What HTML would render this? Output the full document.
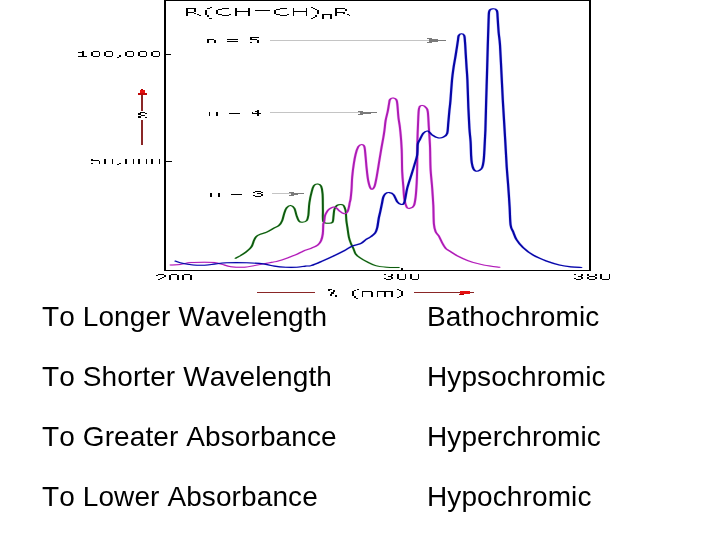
<!DOCTYPE html>
<html><head><meta charset="utf-8">
<style>
html,body{margin:0;padding:0;background:#fff;}
body{width:720px;height:540px;position:relative;overflow:hidden;font-family:"Liberation Sans",sans-serif;}
.t{position:absolute;font-kerning:none;font-size:28px;line-height:28px;color:#000;white-space:nowrap;letter-spacing:0.1px;will-change:transform;}
svg{position:absolute;left:0;top:0;}
</style></head><body>
<svg width="720" height="300" viewBox="0 0 720 300">
<g shape-rendering="crispEdges">
<rect x="164" y="0" width="2" height="271" fill="#000"/>
<rect x="164" y="0" width="427" height="1" fill="#000"/>
<rect x="589" y="0" width="2" height="271" fill="#000"/>
<rect x="164" y="270" width="427" height="1" fill="#000"/>
<rect x="166" y="54" width="5" height="1" fill="#000"/>
<rect x="166" y="161" width="6" height="1" fill="#000"/>
<rect x="401" y="268" width="2" height="2" fill="#000"/>
<rect x="186" y="8" width="2" height="8" fill="#000"/>
<rect x="188" y="8" width="8" height="1" fill="#000"/>
<rect x="194" y="9" width="2" height="3" fill="#000"/>
<rect x="188" y="12" width="6" height="1" fill="#000"/>
<rect x="194" y="13" width="2" height="1" fill="#000"/>
<rect x="197" y="14" width="2" height="1" fill="#000"/>
<rect x="199" y="15" width="2" height="1" fill="#000"/>
<rect x="210" y="7" width="2" height="1" fill="#000"/>
<rect x="207" y="8" width="3" height="1" fill="#000"/>
<rect x="205" y="10" width="2" height="5" fill="#000"/>
<rect x="207" y="15" width="2" height="2" fill="#000"/>
<rect x="209" y="18" width="3" height="1" fill="#000"/>
<rect x="222" y="8" width="7" height="1" fill="#000"/>
<rect x="218" y="9" width="4" height="1" fill="#000"/>
<rect x="216" y="10" width="2" height="4" fill="#000"/>
<rect x="218" y="14" width="4" height="1" fill="#000"/>
<rect x="222" y="15" width="7" height="1" fill="#000"/>
<rect x="229" y="14" width="2" height="1" fill="#000"/>
<rect x="235" y="8" width="2" height="8" fill="#000"/>
<rect x="237" y="11" width="11" height="1" fill="#000"/>
<rect x="248" y="8" width="2" height="8" fill="#000"/>
<rect x="255" y="10" width="15" height="1" fill="#000"/>
<rect x="280" y="8" width="7" height="1" fill="#000"/>
<rect x="276" y="9" width="4" height="1" fill="#000"/>
<rect x="274" y="10" width="2" height="4" fill="#000"/>
<rect x="276" y="14" width="4" height="1" fill="#000"/>
<rect x="280" y="15" width="7" height="1" fill="#000"/>
<rect x="287" y="14" width="2" height="1" fill="#000"/>
<rect x="293" y="8" width="1" height="8" fill="#000"/>
<rect x="294" y="11" width="12" height="1" fill="#000"/>
<rect x="306" y="8" width="1" height="8" fill="#000"/>
<rect x="311" y="7" width="2" height="1" fill="#000"/>
<rect x="313" y="8" width="2" height="1" fill="#000"/>
<rect x="315" y="9" width="2" height="1" fill="#000"/>
<rect x="317" y="10" width="2" height="4" fill="#000"/>
<rect x="315" y="15" width="2" height="2" fill="#000"/>
<rect x="313" y="17" width="2" height="1" fill="#000"/>
<rect x="311" y="18" width="2" height="1" fill="#000"/>
<rect x="322" y="14" width="10" height="1" fill="#000"/>
<rect x="322" y="15" width="2" height="4" fill="#000"/>
<rect x="330" y="15" width="2" height="4" fill="#000"/>
<rect x="335" y="8" width="2" height="8" fill="#000"/>
<rect x="337" y="8" width="8" height="1" fill="#000"/>
<rect x="345" y="9" width="2" height="2" fill="#000"/>
<rect x="337" y="12" width="8" height="1" fill="#000"/>
<rect x="343" y="13" width="2" height="1" fill="#000"/>
<rect x="347" y="14" width="2" height="1" fill="#000"/>
<rect x="349" y="15" width="1" height="1" fill="#000"/>
<rect x="207" y="39" width="7" height="1" fill="#000"/>
<rect x="207" y="40" width="2" height="3" fill="#000"/>
<rect x="214" y="40" width="2" height="3" fill="#000"/>
<rect x="227" y="39" width="11" height="1" fill="#000"/>
<rect x="227" y="41" width="11" height="1" fill="#000"/>
<rect x="250" y="37" width="9" height="1" fill="#000"/>
<rect x="250" y="38" width="2" height="1" fill="#000"/>
<rect x="250" y="39" width="7" height="1" fill="#000"/>
<rect x="257" y="40" width="2" height="3" fill="#000"/>
<rect x="250" y="42" width="2" height="1" fill="#000"/>
<rect x="209" y="112" width="1" height="4" fill="#000"/>
<rect x="216" y="112" width="2" height="4" fill="#000"/>
<rect x="229" y="113" width="11" height="1" fill="#000"/>
<rect x="257" y="110" width="2" height="6" fill="#000"/>
<rect x="255" y="111" width="2" height="1" fill="#000"/>
<rect x="252" y="112" width="1" height="2" fill="#000"/>
<rect x="252" y="113" width="9" height="1" fill="#000"/>
<rect x="210" y="193" width="2" height="4" fill="#000"/>
<rect x="218" y="193" width="2" height="4" fill="#000"/>
<rect x="231" y="194" width="11" height="1" fill="#000"/>
<rect x="255" y="191" width="6" height="1" fill="#000"/>
<rect x="253" y="192" width="2" height="1" fill="#000"/>
<rect x="261" y="192" width="2" height="1" fill="#000"/>
<rect x="257" y="193" width="4" height="1" fill="#000"/>
<rect x="261" y="194" width="2" height="2" fill="#000"/>
<rect x="253" y="195" width="2" height="1" fill="#000"/>
<rect x="255" y="196" width="6" height="1" fill="#000"/>
<rect x="78" y="52" width="4" height="1" fill="#000"/>
<rect x="82" y="51" width="2" height="5" fill="#000"/>
<rect x="78" y="56" width="9" height="1" fill="#000"/>
<rect x="91" y="52" width="2" height="4" fill="#000"/>
<rect x="93" y="51" width="6" height="1" fill="#000"/>
<rect x="99" y="52" width="1" height="4" fill="#000"/>
<rect x="93" y="56" width="6" height="1" fill="#000"/>
<rect x="104" y="52" width="2" height="4" fill="#000"/>
<rect x="106" y="51" width="6" height="1" fill="#000"/>
<rect x="112" y="52" width="1" height="4" fill="#000"/>
<rect x="106" y="56" width="6" height="1" fill="#000"/>
<rect x="125" y="52" width="2" height="4" fill="#000"/>
<rect x="127" y="51" width="6" height="1" fill="#000"/>
<rect x="133" y="52" width="1" height="4" fill="#000"/>
<rect x="127" y="56" width="6" height="1" fill="#000"/>
<rect x="138" y="52" width="2" height="4" fill="#000"/>
<rect x="140" y="51" width="6" height="1" fill="#000"/>
<rect x="146" y="52" width="1" height="4" fill="#000"/>
<rect x="140" y="56" width="6" height="1" fill="#000"/>
<rect x="151" y="52" width="2" height="4" fill="#000"/>
<rect x="153" y="51" width="6" height="1" fill="#000"/>
<rect x="159" y="52" width="1" height="4" fill="#000"/>
<rect x="153" y="56" width="6" height="1" fill="#000"/>
<rect x="119" y="55" width="2" height="2" fill="#000"/>
<rect x="117" y="57" width="2" height="1" fill="#000"/>
<rect x="91" y="159" width="2" height="2" fill="#000"/>
<rect x="93" y="160" width="6" height="1" fill="#000"/>
<rect x="99" y="161" width="1" height="3" fill="#000"/>
<rect x="91" y="163" width="2" height="1" fill="#000"/>
<rect x="104" y="159" width="2" height="5" fill="#000"/>
<rect x="112" y="159" width="1" height="5" fill="#000"/>
<rect x="125" y="159" width="2" height="5" fill="#000"/>
<rect x="133" y="159" width="1" height="5" fill="#000"/>
<rect x="138" y="159" width="2" height="5" fill="#000"/>
<rect x="146" y="159" width="1" height="5" fill="#000"/>
<rect x="151" y="159" width="2" height="5" fill="#000"/>
<rect x="159" y="159" width="1" height="5" fill="#000"/>
<rect x="119" y="163" width="2" height="1" fill="#000"/>
<rect x="117" y="164" width="2" height="1" fill="#000"/>
<rect x="156" y="275" width="2" height="1" fill="#000"/>
<rect x="158" y="274" width="6" height="1" fill="#000"/>
<rect x="164" y="275" width="2" height="2" fill="#000"/>
<rect x="162" y="277" width="2" height="1" fill="#000"/>
<rect x="160" y="278" width="2" height="1" fill="#000"/>
<rect x="158" y="279" width="2" height="1" fill="#000"/>
<rect x="169" y="275" width="2" height="5" fill="#000"/>
<rect x="171" y="274" width="6" height="1" fill="#000"/>
<rect x="177" y="275" width="2" height="5" fill="#000"/>
<rect x="182" y="275" width="2" height="5" fill="#000"/>
<rect x="184" y="274" width="6" height="1" fill="#000"/>
<rect x="190" y="275" width="2" height="5" fill="#000"/>
<rect x="384" y="274" width="2" height="1" fill="#000"/>
<rect x="391" y="274" width="2" height="2" fill="#000"/>
<rect x="388" y="276" width="4" height="1" fill="#000"/>
<rect x="391" y="277" width="2" height="2" fill="#000"/>
<rect x="384" y="278" width="2" height="1" fill="#000"/>
<rect x="386" y="279" width="5" height="1" fill="#000"/>
<rect x="397" y="274" width="2" height="5" fill="#000"/>
<rect x="405" y="274" width="1" height="5" fill="#000"/>
<rect x="399" y="279" width="6" height="1" fill="#000"/>
<rect x="410" y="274" width="2" height="5" fill="#000"/>
<rect x="418" y="274" width="1" height="5" fill="#000"/>
<rect x="412" y="279" width="6" height="1" fill="#000"/>
<rect x="574" y="274" width="2" height="1" fill="#000"/>
<rect x="581" y="274" width="2" height="2" fill="#000"/>
<rect x="578" y="276" width="4" height="1" fill="#000"/>
<rect x="581" y="277" width="2" height="2" fill="#000"/>
<rect x="574" y="278" width="2" height="1" fill="#000"/>
<rect x="576" y="279" width="5" height="1" fill="#000"/>
<rect x="587" y="274" width="2" height="2" fill="#000"/>
<rect x="595" y="274" width="2" height="2" fill="#000"/>
<rect x="589" y="276" width="6" height="1" fill="#000"/>
<rect x="587" y="277" width="2" height="2" fill="#000"/>
<rect x="595" y="277" width="2" height="2" fill="#000"/>
<rect x="589" y="279" width="6" height="1" fill="#000"/>
<rect x="600" y="274" width="2" height="5" fill="#000"/>
<rect x="609" y="274" width="1" height="5" fill="#000"/>
<rect x="602" y="279" width="7" height="1" fill="#000"/>
<rect x="328" y="289" width="4" height="1" fill="#000"/>
<rect x="328" y="290" width="2" height="1" fill="#000"/>
<rect x="333" y="290" width="2" height="2" fill="#000"/>
<rect x="331" y="292" width="3" height="2" fill="#000"/>
<rect x="330" y="294" width="2" height="2" fill="#000"/>
<rect x="335" y="295" width="2" height="2" fill="#000"/>
<rect x="357" y="289" width="2" height="1" fill="#000"/>
<rect x="354" y="290" width="2" height="1" fill="#000"/>
<rect x="352" y="291" width="2" height="5" fill="#000"/>
<rect x="354" y="296" width="2" height="2" fill="#000"/>
<rect x="356" y="298" width="2" height="1" fill="#000"/>
<rect x="362" y="291" width="1" height="6" fill="#000"/>
<rect x="363" y="291" width="9" height="1" fill="#000"/>
<rect x="371" y="292" width="2" height="5" fill="#000"/>
<rect x="377" y="291" width="1" height="6" fill="#000"/>
<rect x="378" y="291" width="15" height="1" fill="#000"/>
<rect x="384" y="292" width="2" height="5" fill="#000"/>
<rect x="391" y="292" width="2" height="5" fill="#000"/>
<rect x="397" y="289" width="2" height="1" fill="#000"/>
<rect x="399" y="290" width="2" height="1" fill="#000"/>
<rect x="401" y="291" width="2" height="5" fill="#000"/>
<rect x="399" y="296" width="2" height="1" fill="#000"/>
<rect x="397" y="297" width="2" height="1" fill="#000"/>
<rect x="140" y="112" width="5" height="1" fill="#000"/>
<rect x="145" y="113" width="2" height="1" fill="#000"/>
<rect x="138" y="113" width="3" height="2" fill="#000"/>
<rect x="141" y="115" width="4" height="1" fill="#000"/>
<rect x="138" y="116" width="3" height="2" fill="#000"/>
<rect x="145" y="117" width="2" height="1" fill="#000"/>
<rect x="141" y="95" width="2" height="16" fill="#8a2626"/>
<rect x="141" y="120" width="2" height="25" fill="#8a2626"/>
<rect x="141" y="89" width="2" height="1" fill="#b00000"/>
<rect x="140" y="90" width="5" height="3" fill="#e41010"/>
<rect x="138" y="93" width="9" height="2" fill="#c00808"/>
<rect x="257" y="292" width="58" height="1" fill="#8a2626"/>
<rect x="414" y="292" width="60" height="1" fill="#8a2626"/>
<rect x="460" y="291" width="10" height="3" fill="#e41010"/>
<rect x="459" y="294" width="5" height="1" fill="#b00000"/>
<rect x="270" y="40" width="160" height="1" fill="#c4c4c4"/>
<rect x="427" y="38" width="5" height="1" fill="#7a7a7a"/>
<rect x="427" y="42" width="5" height="1" fill="#7a7a7a"/>
<rect x="429" y="38" width="3" height="5" fill="#7a7a7a"/>
<rect x="432" y="39" width="6" height="3" fill="#7a7a7a"/>
<rect x="438" y="40" width="8" height="1" fill="#7a7a7a"/>
<rect x="270" y="112" width="91" height="1" fill="#c4c4c4"/>
<rect x="358" y="111" width="5" height="1" fill="#7a7a7a"/>
<rect x="358" y="114" width="5" height="1" fill="#7a7a7a"/>
<rect x="360" y="111" width="3" height="4" fill="#7a7a7a"/>
<rect x="363" y="112" width="8" height="2" fill="#7a7a7a"/>
<rect x="371" y="112" width="6" height="1" fill="#7a7a7a"/>
<rect x="272" y="193" width="20" height="1" fill="#c4c4c4"/>
<rect x="289" y="192" width="5" height="1" fill="#7a7a7a"/>
<rect x="289" y="195" width="5" height="1" fill="#7a7a7a"/>
<rect x="291" y="192" width="2" height="4" fill="#7a7a7a"/>
<rect x="293" y="193" width="5" height="2" fill="#7a7a7a"/>
<rect x="298" y="193" width="6" height="1" fill="#7a7a7a"/>
</g>

<g fill="none" stroke-linejoin="round" stroke-linecap="round" transform="scale(1,0.5)">
<path d="M235.6,516.6 C236.9,515.1 240.7,511.5 243.3,507.8 C245.9,504.1 249.3,498.8 251.1,494.4 C252.9,490.0 253.1,484.7 253.9,481.2 C254.7,477.7 255.1,475.5 256.1,473.4 C257.1,471.3 258.2,470.3 260.0,468.8 C261.8,467.3 264.3,466.6 266.7,464.4 C269.1,462.2 272.4,457.8 274.4,455.6 C276.4,453.4 277.6,453.6 278.9,451.2 C280.2,448.8 281.3,445.5 282.2,441.2 C283.1,436.9 283.6,429.9 284.4,425.6 C285.1,421.3 285.7,418.0 286.7,415.6 C287.7,413.2 289.3,411.0 290.6,411.2 C291.9,411.4 293.4,413.1 294.4,416.6 C295.4,420.1 295.9,427.8 296.7,432.0 C297.4,436.2 298.0,439.9 298.9,442.0 C299.8,444.1 300.9,444.5 302.2,444.4 C303.5,444.3 305.7,443.6 306.7,441.2 C307.7,438.8 307.9,435.9 308.4,430.0 C308.8,424.1 308.8,413.4 309.4,405.6 C309.9,397.8 310.9,389.1 311.7,383.4 C312.4,377.7 312.9,373.8 313.9,371.2 C314.9,368.6 316.6,367.6 317.8,367.8 C319.0,368.0 320.3,368.9 321.1,372.2 C321.9,375.5 322.3,379.8 322.6,387.8 C322.9,395.8 322.8,410.7 322.9,420.0 C323.0,429.3 322.4,439.0 323.3,443.4 C324.2,447.8 326.5,446.2 328.0,446.4 C329.5,446.6 331.6,446.7 332.5,444.4 C333.4,442.1 333.2,437.1 333.5,432.8 C333.8,428.5 333.8,422.3 334.4,418.6 C335.0,414.9 335.9,412.4 337.0,410.8 C338.1,409.2 339.8,408.8 340.9,408.8 C342.0,408.8 342.9,409.6 343.5,410.8 C344.1,412.0 344.4,413.9 344.8,416.0 C345.2,418.1 345.5,419.3 345.8,423.6 C346.1,427.9 346.1,436.6 346.4,441.8 C346.7,447.0 347.0,449.4 347.4,454.8 C347.8,460.2 348.3,468.9 348.9,474.4 C349.5,479.9 350.4,484.1 351.1,487.8 C351.8,491.5 352.6,493.3 353.3,496.6 C354.1,499.9 354.5,504.6 355.6,507.8 C356.7,511.0 358.1,513.0 360.0,515.6 C361.9,518.2 364.1,520.8 366.7,523.4 C369.3,526.0 372.3,529.4 375.6,531.2 C378.9,533.0 382.8,533.8 386.7,534.4 C390.6,535.0 396.9,534.7 398.9,534.8" stroke="#d2f2d2" stroke-width="3.0"/>
<path d="M170.6,530.0 C172.2,529.8 176.6,529.6 180.0,528.8 C183.4,528.0 187.0,525.9 191.1,525.2 C195.2,524.5 200.5,524.4 204.4,524.4 C208.3,524.4 211.4,524.5 214.4,525.2 C217.4,525.9 219.4,527.4 222.2,528.8 C225.0,530.2 227.4,532.5 231.1,533.4 C234.8,534.3 240.5,534.8 244.4,534.4 C248.3,534.0 251.2,532.3 254.4,531.2 C257.6,530.1 260.3,528.9 263.3,527.8 C266.3,526.7 269.8,525.3 272.2,524.4 C274.6,523.5 275.2,523.7 277.8,522.2 C280.4,520.7 284.7,517.8 287.8,515.6 C290.9,513.4 294.1,511.0 296.7,508.8 C299.3,506.6 300.9,504.2 303.3,502.2 C305.7,500.2 308.7,498.6 311.1,496.6 C313.5,494.6 316.1,492.6 317.8,490.0 C319.5,487.4 320.3,484.9 321.1,481.2 C321.9,477.5 322.4,473.4 322.8,467.8 C323.2,462.2 323.1,451.7 323.3,447.8 C323.5,443.9 323.8,447.1 324.1,444.4 C324.4,441.7 324.5,435.1 325.0,431.4 C325.5,427.7 326.5,424.8 327.3,422.4 C328.1,420.0 328.8,418.6 329.9,417.2 C331.0,415.8 332.7,414.2 333.8,414.0 C334.9,413.8 335.5,414.8 336.4,416.0 C337.3,417.2 338.1,419.7 339.0,421.2 C339.9,422.7 340.6,423.9 341.6,425.0 C342.6,426.1 343.8,427.8 344.8,427.6 C345.8,427.4 346.8,425.5 347.4,423.6 C348.0,421.7 348.3,419.0 348.7,416.0 C349.1,413.0 349.4,408.6 349.7,405.6 C350.0,402.6 350.3,402.1 350.6,397.8 C350.9,393.5 351.2,387.3 351.5,380.0 C351.8,372.7 351.8,362.9 352.2,354.0 C352.6,345.1 353.3,334.1 353.9,326.6 C354.5,319.1 354.9,314.3 355.6,308.8 C356.3,303.3 357.3,296.7 358.3,293.4 C359.3,290.1 360.7,288.8 361.7,288.8 C362.7,288.8 363.8,289.3 364.4,293.4 C365.0,297.5 365.2,306.0 365.6,313.4 C366.0,320.8 366.2,329.7 366.7,337.8 C367.1,345.9 367.6,355.5 368.3,362.2 C369.0,368.9 370.1,375.9 371.1,377.8 C372.1,379.7 373.5,377.5 374.4,373.4 C375.3,369.3 375.9,361.2 376.7,353.4 C377.4,345.6 378.2,335.5 378.9,326.6 C379.6,317.7 380.4,308.5 381.1,300.0 C381.8,291.5 382.7,282.3 383.3,275.6 C383.9,268.9 384.1,265.7 384.5,260.0 C384.9,254.3 385.1,247.2 385.6,241.2 C386.1,235.2 387.0,229.5 387.6,224.0 C388.2,218.5 388.6,212.2 389.0,208.0 C389.4,203.8 389.3,201.0 390.0,199.0 C390.7,197.0 392.2,195.8 393.3,196.0 C394.4,196.2 395.8,197.3 396.5,200.0 C397.2,202.7 397.2,206.0 397.5,212.0 C397.8,218.0 398.1,229.7 398.5,236.0 C398.9,242.3 399.2,244.7 399.6,250.0 C400.0,255.3 400.2,259.7 400.6,267.8 C401.0,275.9 401.4,286.2 401.7,298.8 C402.0,311.4 401.9,331.2 402.2,343.4 C402.5,355.6 402.9,363.0 403.3,372.2 C403.7,381.4 403.8,391.8 404.4,398.8 C405.0,405.8 405.8,411.4 406.7,414.4 C407.6,417.4 408.8,417.1 410.0,416.6 C411.2,416.1 413.0,414.9 413.9,411.2 C414.8,407.5 415.1,402.0 415.6,394.4 C416.1,386.8 416.4,376.0 416.7,365.6 C417.0,355.2 417.1,345.9 417.2,332.2 C417.3,318.5 417.2,299.7 417.4,283.4 C417.6,267.1 418.0,245.9 418.3,234.4 C418.6,222.9 418.6,218.3 419.4,214.4 C420.1,210.5 421.7,211.0 422.8,211.2 C423.9,211.4 425.3,213.6 426.1,215.6 C426.9,217.6 427.3,216.6 427.8,223.4 C428.3,230.2 428.5,245.1 428.9,256.6 C429.3,268.1 429.7,278.5 430.0,292.2 C430.3,305.9 430.2,324.7 430.6,338.8 C431.0,352.9 431.8,364.7 432.2,376.6 C432.6,388.5 433.0,398.1 433.3,410.0 C433.6,421.9 433.5,438.9 433.9,447.8 C434.3,456.7 434.8,459.3 435.6,463.4 C436.4,467.5 437.8,468.5 438.9,472.2 C440.0,475.9 441.1,481.5 442.2,485.6 C443.3,489.7 444.5,494.0 445.6,496.6 C446.7,499.2 446.9,498.6 448.9,501.2 C450.9,503.8 454.6,508.9 457.8,512.2 C461.0,515.5 464.3,518.6 467.8,521.2 C471.3,523.8 475.2,526.0 478.9,527.8 C482.6,529.6 486.6,531.1 490.0,532.2 C493.4,533.3 497.8,534.0 499.4,534.4" stroke="#f8c0f8" stroke-width="3.0"/>
<path d="M175.6,522.2 C176.7,522.9 179.2,525.3 182.2,526.6 C185.1,527.9 189.6,529.4 193.3,530.0 C197.0,530.6 200.7,530.8 204.4,530.4 C208.1,530.0 211.9,528.6 215.6,527.8 C219.3,527.0 221.5,526.0 226.7,525.6 C231.9,525.2 240.6,525.2 246.7,525.6 C252.8,526.0 258.7,526.7 263.3,527.8 C267.9,528.9 270.7,531.1 274.4,532.2 C278.1,533.3 281.9,534.0 285.6,534.4 C289.3,534.8 293.4,534.8 296.7,534.4 C300.0,534.0 303.2,532.7 305.6,532.2 C308.0,531.7 308.3,532.9 311.1,531.2 C313.9,529.5 318.5,525.4 322.2,522.2 C325.9,519.0 329.6,515.7 333.3,512.2 C337.0,508.7 341.2,504.5 344.4,501.2 C347.5,497.9 349.4,494.6 352.2,492.2 C355.0,489.8 358.8,488.8 361.1,486.6 C363.4,484.4 364.3,481.3 366.0,479.0 C367.7,476.7 369.6,475.2 371.1,473.0 C372.6,470.8 374.2,468.7 375.2,465.8 C376.2,462.9 376.6,460.4 377.2,455.6 C377.8,450.8 378.2,442.6 378.7,437.2 C379.2,431.8 379.8,427.8 380.3,423.0 C380.8,418.2 381.3,413.4 381.8,408.6 C382.3,403.8 382.7,397.9 383.3,394.4 C383.9,390.9 384.4,388.9 385.4,387.4 C386.4,385.9 388.0,384.9 389.4,385.2 C390.8,385.5 392.2,386.2 393.5,389.2 C394.8,392.2 395.9,400.1 397.2,403.4 C398.5,406.7 399.9,408.6 401.1,408.8 C402.3,409.0 403.4,409.8 404.4,404.4 C405.4,399.0 406.0,386.0 407.2,376.6 C408.4,367.2 410.5,355.6 411.7,347.8 C412.9,340.0 413.5,336.3 414.4,330.0 C415.3,323.7 416.6,317.0 417.2,310.0 C417.8,303.0 417.3,293.0 417.8,287.8 C418.3,282.6 419.1,282.3 420.0,278.8 C420.9,275.3 422.0,269.4 423.3,266.6 C424.6,263.8 426.3,261.6 427.8,262.2 C429.3,262.8 430.5,267.8 432.2,270.0 C433.9,272.2 435.9,274.9 437.8,275.6 C439.7,276.3 441.7,275.9 443.3,274.4 C444.9,272.9 446.4,271.4 447.2,266.6 C448.0,261.8 447.9,253.2 448.3,245.6 C448.7,238.0 449.0,228.8 449.4,221.2 C449.8,213.6 450.1,210.2 450.5,200.0 C450.9,189.8 451.5,170.7 452.0,160.0 C452.5,149.3 453.0,143.3 453.5,136.0 C454.0,128.7 454.6,122.7 455.2,116.0 C455.8,109.3 456.3,102.0 456.8,96.0 C457.3,90.0 457.7,84.2 458.0,80.0 C458.3,75.8 458.2,73.1 458.8,71.0 C459.4,68.9 460.6,67.6 461.5,67.6 C462.4,67.6 463.6,68.3 464.2,71.0 C464.8,73.7 464.7,77.5 465.0,84.0 C465.3,90.5 465.5,101.3 465.8,110.0 C466.1,118.7 466.3,127.7 466.6,136.0 C466.9,144.3 467.1,147.3 467.4,160.0 C467.7,172.7 468.0,196.1 468.3,212.2 C468.6,228.3 469.0,244.7 469.4,256.6 C469.8,268.5 470.3,274.5 470.6,283.4 C470.9,292.3 470.9,302.9 471.1,310.0 C471.3,317.1 471.4,321.3 471.8,326.0 C472.2,330.7 472.8,335.3 473.5,338.0 C474.2,340.7 475.3,342.0 476.3,342.4 C477.3,342.8 478.5,341.8 479.5,340.6 C480.5,339.4 481.5,338.1 482.2,335.0 C482.9,331.9 483.2,327.8 483.6,322.0 C484.0,316.2 484.1,310.3 484.4,300.0 C484.7,289.7 485.1,276.7 485.4,260.0 C485.7,243.3 485.9,218.7 486.2,200.0 C486.5,181.3 486.7,166.3 487.0,148.0 C487.3,129.7 487.5,108.0 487.8,90.0 C488.1,72.0 488.4,51.3 488.6,40.0 C488.9,28.7 488.6,25.7 489.3,22.0 C490.0,18.3 491.8,17.8 493.0,17.6 C494.2,17.4 496.0,18.3 496.8,21.0 C497.6,23.7 497.3,26.8 497.6,34.0 C497.9,41.2 498.2,54.7 498.6,64.0 C499.0,73.3 499.5,76.0 500.0,90.0 C500.5,104.0 501.0,129.7 501.5,148.0 C502.0,166.3 502.2,178.0 502.8,200.0 C503.4,222.0 504.6,257.8 505.2,280.0 C505.8,302.2 506.2,318.6 506.7,333.4 C507.2,348.2 507.6,355.5 508.1,368.8 C508.6,382.1 509.2,399.9 509.6,413.4 C510.0,426.9 510.0,441.6 510.6,450.0 C511.2,458.4 512.2,458.9 513.2,463.8 C514.2,468.7 514.9,474.0 516.5,479.2 C518.1,484.4 520.2,489.6 523.0,494.8 C525.8,500.0 529.4,505.9 533.3,510.4 C537.2,514.9 542.0,518.8 546.3,522.0 C550.6,525.2 555.2,527.8 559.3,529.8 C563.4,531.8 567.3,532.9 571.0,533.8 C574.7,534.7 579.6,534.8 581.3,535.0" stroke="#d0d0ff" stroke-width="3.2"/>
<path d="M235.6,516.6 C236.9,515.1 240.7,511.5 243.3,507.8 C245.9,504.1 249.3,498.8 251.1,494.4 C252.9,490.0 253.1,484.7 253.9,481.2 C254.7,477.7 255.1,475.5 256.1,473.4 C257.1,471.3 258.2,470.3 260.0,468.8 C261.8,467.3 264.3,466.6 266.7,464.4 C269.1,462.2 272.4,457.8 274.4,455.6 C276.4,453.4 277.6,453.6 278.9,451.2 C280.2,448.8 281.3,445.5 282.2,441.2 C283.1,436.9 283.6,429.9 284.4,425.6 C285.1,421.3 285.7,418.0 286.7,415.6 C287.7,413.2 289.3,411.0 290.6,411.2 C291.9,411.4 293.4,413.1 294.4,416.6 C295.4,420.1 295.9,427.8 296.7,432.0 C297.4,436.2 298.0,439.9 298.9,442.0 C299.8,444.1 300.9,444.5 302.2,444.4 C303.5,444.3 305.7,443.6 306.7,441.2 C307.7,438.8 307.9,435.9 308.4,430.0 C308.8,424.1 308.8,413.4 309.4,405.6 C309.9,397.8 310.9,389.1 311.7,383.4 C312.4,377.7 312.9,373.8 313.9,371.2 C314.9,368.6 316.6,367.6 317.8,367.8 C319.0,368.0 320.3,368.9 321.1,372.2 C321.9,375.5 322.3,379.8 322.6,387.8 C322.9,395.8 322.8,410.7 322.9,420.0 C323.0,429.3 322.4,439.0 323.3,443.4 C324.2,447.8 326.5,446.2 328.0,446.4 C329.5,446.6 331.6,446.7 332.5,444.4 C333.4,442.1 333.2,437.1 333.5,432.8 C333.8,428.5 333.8,422.3 334.4,418.6 C335.0,414.9 335.9,412.4 337.0,410.8 C338.1,409.2 339.8,408.8 340.9,408.8 C342.0,408.8 342.9,409.6 343.5,410.8 C344.1,412.0 344.4,413.9 344.8,416.0 C345.2,418.1 345.5,419.3 345.8,423.6 C346.1,427.9 346.1,436.6 346.4,441.8 C346.7,447.0 347.0,449.4 347.4,454.8 C347.8,460.2 348.3,468.9 348.9,474.4 C349.5,479.9 350.4,484.1 351.1,487.8 C351.8,491.5 352.6,493.3 353.3,496.6 C354.1,499.9 354.5,504.6 355.6,507.8 C356.7,511.0 358.1,513.0 360.0,515.6 C361.9,518.2 364.1,520.8 366.7,523.4 C369.3,526.0 372.3,529.4 375.6,531.2 C378.9,533.0 382.8,533.8 386.7,534.4 C390.6,535.0 396.9,534.7 398.9,534.8" stroke="#0e5a0e" stroke-width="2.0"/>
<path d="M170.6,530.0 C172.2,529.8 176.6,529.6 180.0,528.8 C183.4,528.0 187.0,525.9 191.1,525.2 C195.2,524.5 200.5,524.4 204.4,524.4 C208.3,524.4 211.4,524.5 214.4,525.2 C217.4,525.9 219.4,527.4 222.2,528.8 C225.0,530.2 227.4,532.5 231.1,533.4 C234.8,534.3 240.5,534.8 244.4,534.4 C248.3,534.0 251.2,532.3 254.4,531.2 C257.6,530.1 260.3,528.9 263.3,527.8 C266.3,526.7 269.8,525.3 272.2,524.4 C274.6,523.5 275.2,523.7 277.8,522.2 C280.4,520.7 284.7,517.8 287.8,515.6 C290.9,513.4 294.1,511.0 296.7,508.8 C299.3,506.6 300.9,504.2 303.3,502.2 C305.7,500.2 308.7,498.6 311.1,496.6 C313.5,494.6 316.1,492.6 317.8,490.0 C319.5,487.4 320.3,484.9 321.1,481.2 C321.9,477.5 322.4,473.4 322.8,467.8 C323.2,462.2 323.1,451.7 323.3,447.8 C323.5,443.9 323.8,447.1 324.1,444.4 C324.4,441.7 324.5,435.1 325.0,431.4 C325.5,427.7 326.5,424.8 327.3,422.4 C328.1,420.0 328.8,418.6 329.9,417.2 C331.0,415.8 332.7,414.2 333.8,414.0 C334.9,413.8 335.5,414.8 336.4,416.0 C337.3,417.2 338.1,419.7 339.0,421.2 C339.9,422.7 340.6,423.9 341.6,425.0 C342.6,426.1 343.8,427.8 344.8,427.6 C345.8,427.4 346.8,425.5 347.4,423.6 C348.0,421.7 348.3,419.0 348.7,416.0 C349.1,413.0 349.4,408.6 349.7,405.6 C350.0,402.6 350.3,402.1 350.6,397.8 C350.9,393.5 351.2,387.3 351.5,380.0 C351.8,372.7 351.8,362.9 352.2,354.0 C352.6,345.1 353.3,334.1 353.9,326.6 C354.5,319.1 354.9,314.3 355.6,308.8 C356.3,303.3 357.3,296.7 358.3,293.4 C359.3,290.1 360.7,288.8 361.7,288.8 C362.7,288.8 363.8,289.3 364.4,293.4 C365.0,297.5 365.2,306.0 365.6,313.4 C366.0,320.8 366.2,329.7 366.7,337.8 C367.1,345.9 367.6,355.5 368.3,362.2 C369.0,368.9 370.1,375.9 371.1,377.8 C372.1,379.7 373.5,377.5 374.4,373.4 C375.3,369.3 375.9,361.2 376.7,353.4 C377.4,345.6 378.2,335.5 378.9,326.6 C379.6,317.7 380.4,308.5 381.1,300.0 C381.8,291.5 382.7,282.3 383.3,275.6 C383.9,268.9 384.1,265.7 384.5,260.0 C384.9,254.3 385.1,247.2 385.6,241.2 C386.1,235.2 387.0,229.5 387.6,224.0 C388.2,218.5 388.6,212.2 389.0,208.0 C389.4,203.8 389.3,201.0 390.0,199.0 C390.7,197.0 392.2,195.8 393.3,196.0 C394.4,196.2 395.8,197.3 396.5,200.0 C397.2,202.7 397.2,206.0 397.5,212.0 C397.8,218.0 398.1,229.7 398.5,236.0 C398.9,242.3 399.2,244.7 399.6,250.0 C400.0,255.3 400.2,259.7 400.6,267.8 C401.0,275.9 401.4,286.2 401.7,298.8 C402.0,311.4 401.9,331.2 402.2,343.4 C402.5,355.6 402.9,363.0 403.3,372.2 C403.7,381.4 403.8,391.8 404.4,398.8 C405.0,405.8 405.8,411.4 406.7,414.4 C407.6,417.4 408.8,417.1 410.0,416.6 C411.2,416.1 413.0,414.9 413.9,411.2 C414.8,407.5 415.1,402.0 415.6,394.4 C416.1,386.8 416.4,376.0 416.7,365.6 C417.0,355.2 417.1,345.9 417.2,332.2 C417.3,318.5 417.2,299.7 417.4,283.4 C417.6,267.1 418.0,245.9 418.3,234.4 C418.6,222.9 418.6,218.3 419.4,214.4 C420.1,210.5 421.7,211.0 422.8,211.2 C423.9,211.4 425.3,213.6 426.1,215.6 C426.9,217.6 427.3,216.6 427.8,223.4 C428.3,230.2 428.5,245.1 428.9,256.6 C429.3,268.1 429.7,278.5 430.0,292.2 C430.3,305.9 430.2,324.7 430.6,338.8 C431.0,352.9 431.8,364.7 432.2,376.6 C432.6,388.5 433.0,398.1 433.3,410.0 C433.6,421.9 433.5,438.9 433.9,447.8 C434.3,456.7 434.8,459.3 435.6,463.4 C436.4,467.5 437.8,468.5 438.9,472.2 C440.0,475.9 441.1,481.5 442.2,485.6 C443.3,489.7 444.5,494.0 445.6,496.6 C446.7,499.2 446.9,498.6 448.9,501.2 C450.9,503.8 454.6,508.9 457.8,512.2 C461.0,515.5 464.3,518.6 467.8,521.2 C471.3,523.8 475.2,526.0 478.9,527.8 C482.6,529.6 486.6,531.1 490.0,532.2 C493.4,533.3 497.8,534.0 499.4,534.4" stroke="#ac1cb4" stroke-width="2.0"/>
<path d="M175.6,522.2 C176.7,522.9 179.2,525.3 182.2,526.6 C185.1,527.9 189.6,529.4 193.3,530.0 C197.0,530.6 200.7,530.8 204.4,530.4 C208.1,530.0 211.9,528.6 215.6,527.8 C219.3,527.0 221.5,526.0 226.7,525.6 C231.9,525.2 240.6,525.2 246.7,525.6 C252.8,526.0 258.7,526.7 263.3,527.8 C267.9,528.9 270.7,531.1 274.4,532.2 C278.1,533.3 281.9,534.0 285.6,534.4 C289.3,534.8 293.4,534.8 296.7,534.4 C300.0,534.0 303.2,532.7 305.6,532.2 C308.0,531.7 308.3,532.9 311.1,531.2 C313.9,529.5 318.5,525.4 322.2,522.2 C325.9,519.0 329.6,515.7 333.3,512.2 C337.0,508.7 341.2,504.5 344.4,501.2 C347.5,497.9 349.4,494.6 352.2,492.2 C355.0,489.8 358.8,488.8 361.1,486.6 C363.4,484.4 364.3,481.3 366.0,479.0 C367.7,476.7 369.6,475.2 371.1,473.0 C372.6,470.8 374.2,468.7 375.2,465.8 C376.2,462.9 376.6,460.4 377.2,455.6 C377.8,450.8 378.2,442.6 378.7,437.2 C379.2,431.8 379.8,427.8 380.3,423.0 C380.8,418.2 381.3,413.4 381.8,408.6 C382.3,403.8 382.7,397.9 383.3,394.4 C383.9,390.9 384.4,388.9 385.4,387.4 C386.4,385.9 388.0,384.9 389.4,385.2 C390.8,385.5 392.2,386.2 393.5,389.2 C394.8,392.2 395.9,400.1 397.2,403.4 C398.5,406.7 399.9,408.6 401.1,408.8 C402.3,409.0 403.4,409.8 404.4,404.4 C405.4,399.0 406.0,386.0 407.2,376.6 C408.4,367.2 410.5,355.6 411.7,347.8 C412.9,340.0 413.5,336.3 414.4,330.0 C415.3,323.7 416.6,317.0 417.2,310.0 C417.8,303.0 417.3,293.0 417.8,287.8 C418.3,282.6 419.1,282.3 420.0,278.8 C420.9,275.3 422.0,269.4 423.3,266.6 C424.6,263.8 426.3,261.6 427.8,262.2 C429.3,262.8 430.5,267.8 432.2,270.0 C433.9,272.2 435.9,274.9 437.8,275.6 C439.7,276.3 441.7,275.9 443.3,274.4 C444.9,272.9 446.4,271.4 447.2,266.6 C448.0,261.8 447.9,253.2 448.3,245.6 C448.7,238.0 449.0,228.8 449.4,221.2 C449.8,213.6 450.1,210.2 450.5,200.0 C450.9,189.8 451.5,170.7 452.0,160.0 C452.5,149.3 453.0,143.3 453.5,136.0 C454.0,128.7 454.6,122.7 455.2,116.0 C455.8,109.3 456.3,102.0 456.8,96.0 C457.3,90.0 457.7,84.2 458.0,80.0 C458.3,75.8 458.2,73.1 458.8,71.0 C459.4,68.9 460.6,67.6 461.5,67.6 C462.4,67.6 463.6,68.3 464.2,71.0 C464.8,73.7 464.7,77.5 465.0,84.0 C465.3,90.5 465.5,101.3 465.8,110.0 C466.1,118.7 466.3,127.7 466.6,136.0 C466.9,144.3 467.1,147.3 467.4,160.0 C467.7,172.7 468.0,196.1 468.3,212.2 C468.6,228.3 469.0,244.7 469.4,256.6 C469.8,268.5 470.3,274.5 470.6,283.4 C470.9,292.3 470.9,302.9 471.1,310.0 C471.3,317.1 471.4,321.3 471.8,326.0 C472.2,330.7 472.8,335.3 473.5,338.0 C474.2,340.7 475.3,342.0 476.3,342.4 C477.3,342.8 478.5,341.8 479.5,340.6 C480.5,339.4 481.5,338.1 482.2,335.0 C482.9,331.9 483.2,327.8 483.6,322.0 C484.0,316.2 484.1,310.3 484.4,300.0 C484.7,289.7 485.1,276.7 485.4,260.0 C485.7,243.3 485.9,218.7 486.2,200.0 C486.5,181.3 486.7,166.3 487.0,148.0 C487.3,129.7 487.5,108.0 487.8,90.0 C488.1,72.0 488.4,51.3 488.6,40.0 C488.9,28.7 488.6,25.7 489.3,22.0 C490.0,18.3 491.8,17.8 493.0,17.6 C494.2,17.4 496.0,18.3 496.8,21.0 C497.6,23.7 497.3,26.8 497.6,34.0 C497.9,41.2 498.2,54.7 498.6,64.0 C499.0,73.3 499.5,76.0 500.0,90.0 C500.5,104.0 501.0,129.7 501.5,148.0 C502.0,166.3 502.2,178.0 502.8,200.0 C503.4,222.0 504.6,257.8 505.2,280.0 C505.8,302.2 506.2,318.6 506.7,333.4 C507.2,348.2 507.6,355.5 508.1,368.8 C508.6,382.1 509.2,399.9 509.6,413.4 C510.0,426.9 510.0,441.6 510.6,450.0 C511.2,458.4 512.2,458.9 513.2,463.8 C514.2,468.7 514.9,474.0 516.5,479.2 C518.1,484.4 520.2,489.6 523.0,494.8 C525.8,500.0 529.4,505.9 533.3,510.4 C537.2,514.9 542.0,518.8 546.3,522.0 C550.6,525.2 555.2,527.8 559.3,529.8 C563.4,531.8 567.3,532.9 571.0,533.8 C574.7,534.7 579.6,534.8 581.3,535.0" stroke="#0606a6" stroke-width="2.2"/>
</g>
</svg>
<div class="t" style="left:42px;top:303px">To Longer Wavelength</div>
<div class="t" style="left:427px;top:303px">Bathochromic</div>
<div class="t" style="left:42px;top:363px">To Shorter Wavelength</div>
<div class="t" style="left:427px;top:363px">Hypsochromic</div>
<div class="t" style="left:42px;top:423px">To Greater Absorbance</div>
<div class="t" style="left:427px;top:423px">Hyperchromic</div>
<div class="t" style="left:42px;top:483px">To Lower Absorbance</div>
<div class="t" style="left:427px;top:483px">Hypochromic</div>
</body></html>
